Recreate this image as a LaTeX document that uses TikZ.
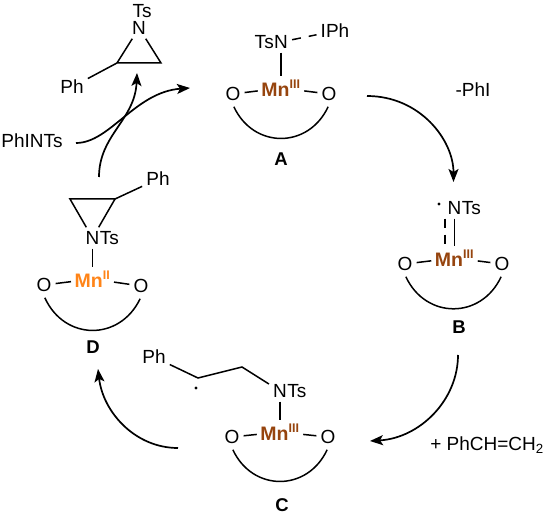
\documentclass[tikz,border=0pt]{standalone}
\usepackage{fontspec}
\setmainfont{Liberation Sans}
\usetikzlibrary{arrows.meta,calc,positioning}
\definecolor{mybrown}{RGB}{150,68,14}
\definecolor{myorange}{RGB}{255,132,24}
\tikzset{
atom/.style={inner sep=4pt,font=\fontsize{19}{20}\selectfont},
metal/.style={atom,inner sep=3.5pt,font=\fontsize{19.5}{20}\selectfont\bfseries},
tag/.style={inner sep=1pt,font=\fontsize{18.5}{20}\selectfont\bfseries},
bond/.style={line width=1.5},
dashbond/.style={line width=1.5,dash pattern=on 9pt off 8pt},
ring/.style={line width=1.5,bend right=65,looseness=1.3,shorten <=2pt,shorten >=2pt},
cyc/.style={line width=1.7,-{Stealth[length=13pt,width=10pt,inset=3pt]}},
raddot/.style={circle,fill,inner sep=0,minimum size=3.2pt}
}
\newcommand{\supfont}{\fontsize{12.5}{13}\selectfont}
\begin{document}
\begin{tikzpicture}[x=1pt,y=-1pt]
\useasboundingbox (0,0) rectangle (550,516);
%top aziridine
\node[atom] (Ntop) at (139,28) {N};
\node[atom] (Tstop) at (142,11) {Ts};
\node[atom] (Phtop) at (72,87) {Ph};
\coordinate (C1top) at (117,63);
\coordinate (C2top) at (161,63);
\draw[bond] (Ntop) -- (C1top) -- (C2top) -- (Ntop);
\draw[bond] (Phtop) -- (C1top);
\node[atom] (PhINTs) at (32,141) {PhINTs};

%complex A
\node[metal,text=mybrown] (MnA) at (281,88) {Mn\textsuperscript{\supfont III}};
\node[atom] (O1A) at (233,94) {O};
\node[atom] (O2A) at (329,94) {O};
\node[atom] (NA) at (281,42) {N};
\node[atom,left=-8pt of NA] (TsA) {Ts};
\node[atom] (IPhA) at (335,31) {IPh};
\node[tag] (LabA) at (281,159) {A};
\draw[bond] (O1A) -- (MnA);
\draw[bond] (MnA) -- (O2A);
\draw[bond] (NA) -- (MnA);
\draw[dashbond] (NA) -- (IPhA);
\draw[ring] (O1A.south) to (O2A.south);

%complex B
\node[metal,text=mybrown] (MnB) at (454.5,258) {Mn\textsuperscript{\supfont III}};
\node[atom] (O1B) at (405,264) {O};
\node[atom] (O2B) at (502,264) {O};
\node[atom] (NB) at (454.5,208) {N};
\node[atom,right=-8pt of NB] (TsB) {Ts};
\node[raddot] (DotB) at (439,204) {};
\node[tag] (LabB) at (459,327) {B};
\draw[bond] (O1B) -- (MnB);
\draw[bond] (MnB) -- (O2B);
\draw[bond] (NB) -- (MnB);
\draw[dashbond,dash pattern=on 9pt off 7pt] ($(NB.south)+(-9.5,0)$) -- ($(MnB.north)+(-9.5,0)$);
\draw[ring] (O1B.south) to (O2B.south);

%complex C
\node[metal,text=mybrown] (MnC) at (280,432) {Mn\textsuperscript{\supfont III}};
\node[atom] (O1C) at (232,437) {O};
\node[atom] (O2C) at (328,437) {O};
\node[atom] (NC) at (280,391) {N};
\node[atom,right=-8pt of NC] (TsC) {Ts};
\node[atom] (PhC) at (154,357) {Ph};
\node[raddot] (DotC) at (196,388) {};
\node[tag] (LabC) at (282,505) {C};
\coordinate (C1C) at (198,378);
\coordinate (C2C) at (242,367);
\draw[bond] (PhC) -- (C1C) -- (C2C) -- (NC);
\draw[bond] (O1C) -- (MnC);
\draw[bond] (MnC) -- (O2C);
\draw[bond] (NC) -- (MnC);
\draw[ring] (O1C.south) to (O2C.south);

%complex D
\node[metal,text=myorange] (MnD) at (92.5,279) {Mn\textsuperscript{\supfont II}};
\node[atom] (O1D) at (44,285) {O};
\node[atom] (O2D) at (141,286) {O};
\node[atom] (ND) at (92.5,238) {N};
\node[atom,right=-8pt of ND] (TsD) {Ts};
\node[atom] (PhD) at (158,179) {Ph};
\node[tag] (LabD) at (93,347) {D};
\coordinate (C1D) at (70,199);
\coordinate (C2D) at (115,199);
\draw[bond] (ND) -- (C1D) -- (C2D) -- (ND);
\draw[bond] (C2D) -- (PhD);
\draw[bond] (O1D) -- (MnD);
\draw[bond] (MnD) -- (O2D);
\draw[bond] (ND) -- (MnD);
\draw[ring] (O1D.south) to (O2D.south);

\node[atom] (LossPhI) at (473,90) {-PhI};
\node[atom] (Styrene) at (487,445) {+ PhCH=CH\textsubscript{2}};

%cycle arrows
\coordinate (AB1) at (367,96);
\coordinate (AB2) at (453.5,182);
\coordinate (BC1) at (458,355);
\coordinate (BC2) at (370,441);
\coordinate (CD1) at (178,448);
\coordinate (CD2) at (98,369);
\coordinate (DT1) at (99,177);
\coordinate (DT2) at (137,73);
\coordinate (PI1) at (76,143);
\coordinate (PI2) at (190,88);
\draw[cyc] (AB1) .. controls (420,96) and (453.5,140) .. (AB2);
\draw[cyc] (BC1) .. controls (458,400) and (420,438) .. (BC2);
\draw[cyc] (CD1) .. controls (135,448) and (103,412) .. (CD2);
\draw[cyc] (DT1) .. controls (99,135) and (135,120) .. (DT2);
\draw[cyc] (PI1) .. controls (110,143) and (135,92) .. (PI2);
\end{tikzpicture}
\end{document}
